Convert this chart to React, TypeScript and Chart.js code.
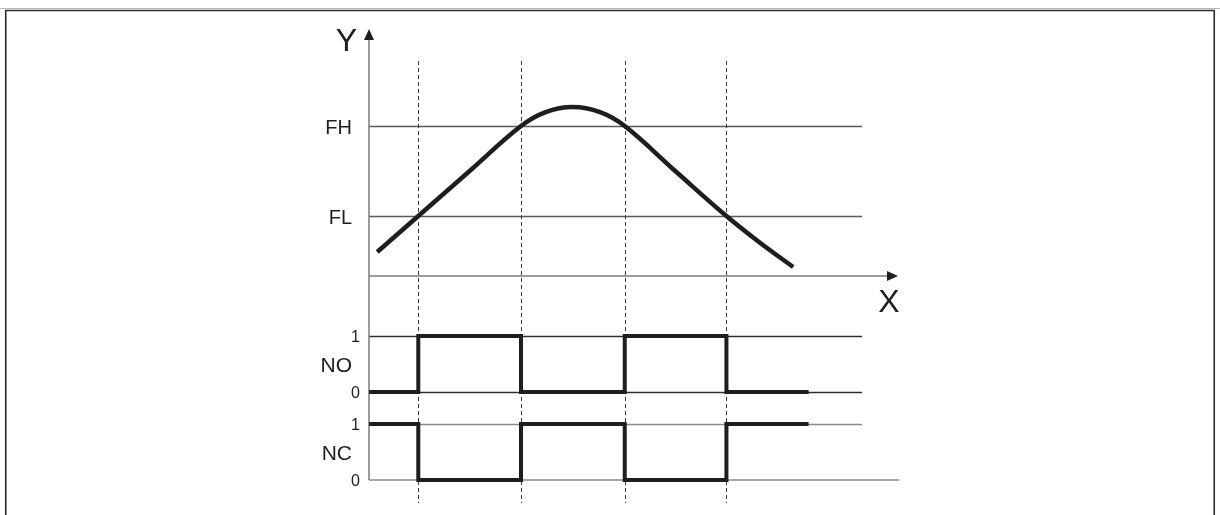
import { useEffect, useRef } from "react";
import { Chart, registerables } from "chart.js";

Chart.register(...registerables);

// ---- data ----
const switchTimes = [0.48, 1.48, 2.49, 3.48];
const signalEnd = 4.28;
const curveX = [0.08, 0.48, 0.98, 1.48, 1.72, 1.98, 2.25, 2.49, 2.99, 3.48, 3.81, 4.13];
const curveY = [1.6, 4.0, 7.0, 10.0, 10.93, 11.27, 10.93, 10.0, 6.95, 4.0, 2.2, 0.6];
const thresholdLabels = ["FH", "FL"];
const thresholdValues = [10, 4];
const signalLabels = ["NO", "NC"];
const noLevels = [0, 1, 0, 1, 0, 0];
const ncLevels = [1, 0, 1, 0, 1, 1];
const levelTicks = ["0", "1"];
const axisLabels = ["X", "Y"];

const signalTimes = [0, ...switchTimes, signalEnd];

const FONT = '"Liberation Sans", Arial, Helvetica, sans-serif';
const INK = "#1e1e1e";

// layout helpers (pixel anchors of each panel inside chart area 29..480)
const AREA_TOP = 29;
const AREA_BOTTOM = 480;
function span(zeroPx: number, pxPerUnit: number) {
  return {
    min: -(AREA_BOTTOM - zeroPx) / pxPerUnit,
    max: (zeroPx - AREA_TOP) / pxPerUnit,
  };
}
const yRange = span(276, 15);
const noRange = span(392, 56);
const ncRange = span(480, 56);

function hline(ctx: CanvasRenderingContext2D, y: number, x0: number, x1: number, color: string, w: number) {
  ctx.beginPath();
  ctx.strokeStyle = color;
  ctx.lineWidth = w;
  ctx.moveTo(x0, y);
  ctx.lineTo(x1, y);
  ctx.stroke();
}

const diagramPlugin = {
  id: "diagram",
  beforeDraw(chart: any) {
    const ctx: CanvasRenderingContext2D = chart.ctx;
    ctx.save();
    ctx.fillStyle = "#ffffff";
    ctx.fillRect(0, 0, chart.width, chart.height);
    // frame
    hline(ctx, 8.5, 0, chart.width, "#b8b8b8", 1);
    ctx.beginPath();
    ctx.strokeStyle = "#2a2a2a";
    ctx.lineWidth = 1.6;
    ctx.moveTo(5.75, chart.height);
    ctx.lineTo(5.75, 10.5);
    ctx.lineTo(1214.25, 10.5);
    ctx.lineTo(1214.25, chart.height);
    ctx.stroke();
    ctx.restore();
  },
  beforeDatasetsDraw(chart: any) {
    const ctx: CanvasRenderingContext2D = chart.ctx;
    const a = chart.chartArea;
    const { x, y, yNO, yNC } = chart.scales;
    ctx.save();
    // threshold lines
    thresholdValues.forEach((v) => hline(ctx, Math.round(y.getPixelForValue(v)) + 0.5, a.left, a.right, "#5a5a5a", 1.3));
    // signal level lines
    hline(ctx, yNO.getPixelForValue(1) + 0.5, a.left, a.right, "#2e2e2e", 1.3);
    hline(ctx, yNO.getPixelForValue(0) + 0.5, a.left, a.right, "#2e2e2e", 1.3);
    hline(ctx, yNC.getPixelForValue(1) + 0.5, a.left, a.right, "#8a8a8a", 1.5);
    hline(ctx, yNC.getPixelForValue(0), a.left, a.right + 37, "#8a8a8a", 1.6);
    // x axis with arrow
    const xAxisY = y.getPixelForValue(0);
    const tipX = a.right + 36;
    hline(ctx, xAxisY, a.left, tipX - 6, "#7a7a7a", 1.5);
    ctx.beginPath();
    ctx.fillStyle = INK;
    ctx.moveTo(tipX, xAxisY);
    ctx.lineTo(tipX - 11, xAxisY - 5);
    ctx.lineTo(tipX - 11, xAxisY + 5);
    ctx.closePath();
    ctx.fill();
    // y axis with arrow
    const ax = a.left;
    ctx.beginPath();
    ctx.strokeStyle = "#7a7a7a";
    ctx.lineWidth = 1.5;
    ctx.moveTo(ax, a.bottom);
    ctx.lineTo(ax, a.top + 8);
    ctx.stroke();
    ctx.beginPath();
    ctx.fillStyle = INK;
    ctx.moveTo(ax, a.top);
    ctx.lineTo(ax - 5, a.top + 11);
    ctx.lineTo(ax + 5, a.top + 11);
    ctx.closePath();
    ctx.fill();
    // dashed verticals at switch times
    ctx.setLineDash([4, 3]);
    ctx.strokeStyle = "#3a3a3a";
    ctx.lineWidth = 1;
    switchTimes.forEach((t) => {
      const px = Math.round(x.getPixelForValue(t)) + 0.5;
      ctx.beginPath();
      ctx.moveTo(px, a.top + 32);
      ctx.lineTo(px, a.bottom + 23);
      ctx.stroke();
    });
    ctx.setLineDash([]);
    ctx.restore();
  },
  afterDraw(chart: any) {
    const ctx: CanvasRenderingContext2D = chart.ctx;
    const a = chart.chartArea;
    const { y, yNO, yNC } = chart.scales;
    ctx.save();
    ctx.fillStyle = INK;
    ctx.textBaseline = "alphabetic";
    // axis letters
    ctx.font = `32px ${FONT}`;
    ctx.textAlign = "center";
    ctx.fillText(axisLabels[0], a.right + 27, y.getPixelForValue(0) + 36);
    ctx.textAlign = "right";
    ctx.fillText(axisLabels[1], a.left - 12, a.top + 22);
    // thresholds
    ctx.font = `20px ${FONT}`;
    thresholdLabels.forEach((lab, i) => {
      ctx.fillText(lab, a.left - 17, y.getPixelForValue(thresholdValues[i]) + 7.5);
    });
    // signal names
    ctx.font = `21px ${FONT}`;
    const scales = [yNO, yNC];
    signalLabels.forEach((lab, i) => {
      const s = scales[i];
      const mid = (s.getPixelForValue(0) + s.getPixelForValue(1)) / 2;
      ctx.fillText(lab, a.left - 17, mid + 8);
    });
    // level ticks
    ctx.font = `16px ${FONT}`;
    scales.forEach((s) => {
      levelTicks.forEach((t) => {
        ctx.fillText(t, a.left - 9, s.getPixelForValue(Number(t)) + 6);
      });
    });
    ctx.restore();
  },
};

export default function App() {
  const ref = useRef<HTMLCanvasElement | null>(null);

  useEffect(() => {
    if (!ref.current) return;
    const chart = new Chart(ref.current, {
      type: "line",
      data: {
        datasets: [
          {
            label: "Y",
            data: curveX.map((xv, i) => ({ x: xv, y: curveY[i] })),
            yAxisID: "y",
            borderColor: INK,
            borderWidth: 4.5,
            pointRadius: 0,
            tension: 0.4,
            fill: false,
            clip: false as any,
          },
          {
            label: "NO",
            data: signalTimes.map((t, i) => ({ x: t, y: noLevels[i] })),
            yAxisID: "yNO",
            borderColor: INK,
            borderWidth: 4,
            pointRadius: 0,
            stepped: "before",
            borderJoinStyle: "miter",
            fill: false,
            clip: false as any,
          },
          {
            label: "NC",
            data: signalTimes.map((t, i) => ({ x: t, y: ncLevels[i] })),
            yAxisID: "yNC",
            borderColor: INK,
            borderWidth: 4,
            pointRadius: 0,
            stepped: "before",
            borderJoinStyle: "miter",
            fill: false,
            clip: false as any,
          },
        ],
      },
      options: {
        animation: false,
        responsive: false,
        maintainAspectRatio: false,
        devicePixelRatio: 1,
        layout: { padding: { left: 369, right: 358, top: AREA_TOP, bottom: 515 - AREA_BOTTOM } },
        plugins: { legend: { display: false }, tooltip: { enabled: false } },
        events: [],
        scales: {
          x: { type: "linear", min: 0, max: 4.8, display: false },
          y: { type: "linear", min: yRange.min, max: yRange.max, display: false },
          yNO: { type: "linear", min: noRange.min, max: noRange.max, display: false },
          yNC: { type: "linear", min: ncRange.min, max: ncRange.max, display: false },
        },
      },
      plugins: [diagramPlugin],
    });
    return () => chart.destroy();
  }, []);

  return (
    <div style={{ position: "absolute", left: 0, top: 0, width: 1220, height: 515 }}>
      <canvas ref={ref} width={1220} height={515} style={{ display: "block" }} />
    </div>
  );
}
